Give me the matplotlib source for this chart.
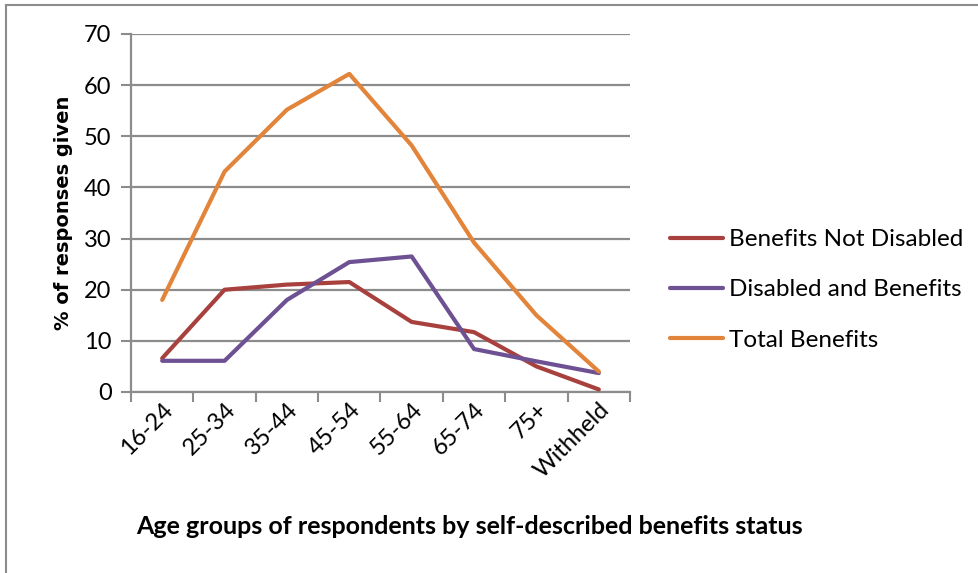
import numpy as np
import matplotlib.pyplot as plt
from matplotlib.lines import Line2D

ageGroups = ["16-24", "25-34", "35-44", "45-54", "55-64", "65-74", "75+", "Withheld"]
benefitsNotDisabled = [6.6, 20.0, 21.0, 21.5, 13.7, 11.7, 5.0, 0.5]
disabledAndBenefits = [6.1, 6.1, 18.0, 25.4, 26.5, 8.4, 6.0, 3.7]
totalBenefits = [18.0, 43.1, 55.2, 62.2, 48.2, 29.2, 15.0, 4.0]

seriesNames = ["Benefits Not Disabled", "Disabled and Benefits", "Total Benefits"]
seriesColors = ["#A8413E", "#6D5192", "#E2843A"]

plt.rcParams["font.family"] = ["Lato", "DejaVu Sans"]
gridGrey = "#8C8C8C"

fig = plt.figure(figsize=(9.79, 5.73), dpi=100)
ax = fig.add_axes([131 / 979, 1 - 392 / 573, (630 - 131) / 979, (392 - 34) / 573])

x = np.arange(len(ageGroups))
for vals, name, col in zip([benefitsNotDisabled, disabledAndBenefits, totalBenefits],
                           seriesNames, seriesColors):
    ax.plot(x, vals, color=col, lw=3.0, label=name, solid_capstyle="round",
            solid_joinstyle="round", zorder=3)

ax.set_xlim(-0.5, len(ageGroups) - 0.5)
ax.set_ylim(0, 70)
ax.set_yticks(range(0, 71, 10))
ax.tick_params(axis="y", labelsize=17, length=7, color=gridGrey, width=1.5, pad=7)
ax.yaxis.grid(True, color=gridGrey, lw=1.6)
ax.set_axisbelow(True)

# category labels at centres, tick marks on the boundaries
ax.set_xticks(x)
ax.set_xticklabels(ageGroups, rotation=45, ha="right", rotation_mode="anchor", fontsize=17)
ax.tick_params(axis="x", which="major", length=0, pad=5)
ax.set_xticks(np.arange(-0.5, len(ageGroups)), minor=True)
ax.tick_params(axis="x", which="minor", length=7, color=gridGrey, width=1.5)

for side in ["top", "right"]:
    ax.spines[side].set_visible(False)
for side in ["left", "bottom"]:
    ax.spines[side].set_color(gridGrey)
    ax.spines[side].set_linewidth(1.6)

ax.set_ylabel("% of responses given", fontsize=14, fontweight="bold",
              family="DejaVu Sans", labelpad=8)
fig.text(469 / 979, 1 - 527 / 573, "Age groups of respondents by self-described benefits status",
         ha="center", va="center", fontsize=18, fontweight="bold")

ax.legend(loc="center left", bbox_to_anchor=(1.036, 0.285), frameon=False, fontsize=17.5,
          handlelength=2.2, handletextpad=0.25, labelspacing=1.2)

# outer frame
fig.add_artist(Line2D([6 / 979, 6 / 979], [0, 1 - 5 / 573], color=gridGrey, lw=1.5))
fig.add_artist(Line2D([6 / 979, 1], [1 - 5 / 573, 1 - 5 / 573], color=gridGrey, lw=1.5))

fig.savefig("out.png", dpi=100)
